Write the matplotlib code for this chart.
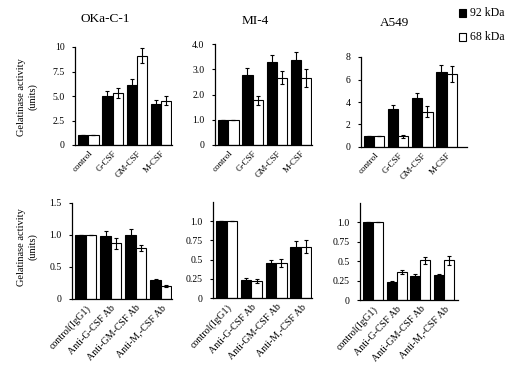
import numpy as np
import matplotlib.pyplot as plt

plt.rcParams['font.family'] = ['Liberation Serif', 'DejaVu Serif']

# top row: cytokine stimulation
top_cats = ['control', 'G-CSF', 'GM-CSF', 'M-CSF']
oka_92 = [1.0, 5.0, 6.1, 4.2]
oka_92_err = [0, 0.5, 0.6, 0.4]
oka_68 = [1.0, 5.3, 9.1, 4.5]
oka_68_err = [0, 0.55, 0.75, 0.45]

mi4_92 = [1.0, 2.78, 3.27, 3.37]
mi4_92_err = [0, 0.25, 0.3, 0.33]
mi4_68 = [1.0, 1.78, 2.67, 2.65]
mi4_68_err = [0, 0.18, 0.25, 0.35]

a549_92 = [1.0, 3.4, 4.35, 6.7]
a549_92_err = [0, 0.35, 0.45, 0.6]
a549_68 = [1.0, 0.95, 3.15, 6.5]
a549_68_err = [0, 0.15, 0.45, 0.7]

# bottom row: neutralising antibodies
bot_cats = ['control(IgG1)', 'Anti-G-CSF Ab', 'Anti-GM-CSF Ab', 'Anti-M,-CSF Ab']
oka_ab_92 = [1.0, 0.98, 1.0, 0.29]
oka_ab_92_err = [0, 0.08, 0.1, 0.03]
oka_ab_68 = [1.0, 0.87, 0.8, 0.2]
oka_ab_68_err = [0, 0.09, 0.05, 0.02]

mi4_ab_92 = [1.0, 0.23, 0.45, 0.67]
mi4_ab_92_err = [0, 0.03, 0.04, 0.07]
mi4_ab_68 = [1.0, 0.22, 0.46, 0.67]
mi4_ab_68_err = [0, 0.03, 0.05, 0.08]

a549_ab_92 = [1.0, 0.23, 0.31, 0.32]
a549_ab_92_err = [0, 0.02, 0.02, 0.02]
a549_ab_68 = [1.0, 0.36, 0.51, 0.51]
a549_ab_68_err = [0, 0.03, 0.05, 0.06]

W, H = 520, 368
fig = plt.figure(figsize=(5.2, 3.68), dpi=100)


def make_ax(l, r, t, b):
    return fig.add_axes([l / W, 1 - b / H, (r - l) / W, (b - t) / H])


def panel(ax, cats, v92, e92, v68, e68, ymax, ticks, ticklabels,
          xmax=3.45, xfs=6.5):
    x = np.arange(len(cats))
    w = 0.42
    ax.bar(x - w / 2, v92, w, color='black', edgecolor='black', linewidth=0.8)
    ax.bar(x + w / 2, v68, w, color='white', edgecolor='black', linewidth=0.8)
    ax.errorbar(x - w / 2, v92, yerr=e92, fmt='none', ecolor='black',
                elinewidth=0.8, capsize=1.5, capthick=0.8)
    ax.errorbar(x + w / 2, v68, yerr=e68, fmt='none', ecolor='black',
                elinewidth=0.8, capsize=1.5, capthick=0.8)
    ax.set_xlim(-0.55, xmax)
    ax.set_ylim(0, ymax)
    ax.set_yticks(ticks)
    ax.set_yticklabels(ticklabels, fontsize=7)
    ax.set_xticks(x)
    ax.set_xticklabels(cats, rotation=47, ha='right', rotation_mode='anchor',
                       fontsize=xfs)
    ax.tick_params(axis='x', length=0, pad=3)
    ax.tick_params(axis='y', length=2.5, width=0.8, pad=5)
    for s in ['top', 'right']:
        ax.spines[s].set_visible(False)
    for s in ['left', 'bottom']:
        ax.spines[s].set_linewidth(0.9)


ax1 = make_ax(75, 172, 47, 145)
panel(ax1, top_cats, oka_92, oka_92_err, oka_68, oka_68_err, 10,
      [0, 2.5, 5, 7.5, 10], ['0', '2.5', '5.0', '7.5', '10'])
ax2 = make_ax(215, 312, 44, 145)
panel(ax2, top_cats, mi4_92, mi4_92_err, mi4_68, mi4_68_err, 4,
      [0, 1, 2, 3, 4], ['0', '1.0', '2.0', '3.0', '4.0'])
ax3 = make_ax(361, 467, 57, 147)
panel(ax3, top_cats, a549_92, a549_92_err, a549_68, a549_68_err, 8,
      [0, 2, 4, 6, 8], ['0', '2', '4', '6', '8'], xmax=3.85)

ab_ticks = [0, 0.25, 0.5, 0.75, 1.0]
ab_labels = ['0', '0.25', '0.5', '0.75', '1.0']
ax4 = make_ax(72, 172, 203, 299)
panel(ax4, bot_cats, oka_ab_92, oka_ab_92_err, oka_ab_68, oka_ab_68_err, 1.5,
      [0, 0.5, 1.0, 1.5], ['0', '0.5', '1.0', '1.5'], xfs=7.2)
ax5 = make_ax(213, 312, 202, 298)
panel(ax5, bot_cats, mi4_ab_92, mi4_ab_92_err, mi4_ab_68, mi4_ab_68_err, 1.25,
      ab_ticks, ab_labels, xfs=7.2)
ax6 = make_ax(360, 458, 203, 300)
panel(ax6, bot_cats, a549_ab_92, a549_ab_92_err, a549_ab_68, a549_ab_68_err, 1.25,
      ab_ticks, ab_labels, xmax=3.6, xfs=7.2)

# titles
fig.text(105 / W, 1 - 19 / H, 'OKa-C-1', ha='center', va='center', fontsize=9.5)
fig.text(255 / W, 1 - 21 / H, 'MI-4', ha='center', va='center', fontsize=9.5)
fig.text(395 / W, 1 - 23 / H, 'A549', ha='center', va='center', fontsize=9.5)

# y labels
fig.text(27 / W, 1 - 97 / H, 'Gelatinase activity\n(units)', ha='center',
         va='center', rotation=90, fontsize=7.5, linespacing=1.3)
fig.text(27 / W, 1 - 247 / H, 'Gelatinase activity\n(units)', ha='center',
         va='center', rotation=90, fontsize=7.5, linespacing=1.3)

# legend
fig.patches.append(plt.Rectangle((459 / W, 1 - 17 / H), 7 / W, 8 / H,
                                 transform=fig.transFigure, facecolor='black',
                                 edgecolor='black', linewidth=0.8))
fig.patches.append(plt.Rectangle((459 / W, 1 - 41 / H), 7 / W, 8 / H,
                                 transform=fig.transFigure, facecolor='white',
                                 edgecolor='black', linewidth=0.8))
fig.text(470 / W, 1 - 13 / H, '92 kDa', ha='left', va='center', fontsize=8.5)
fig.text(470 / W, 1 - 37 / H, '68 kDa', ha='left', va='center', fontsize=8.5)

fig.savefig('out.png', dpi=100)
